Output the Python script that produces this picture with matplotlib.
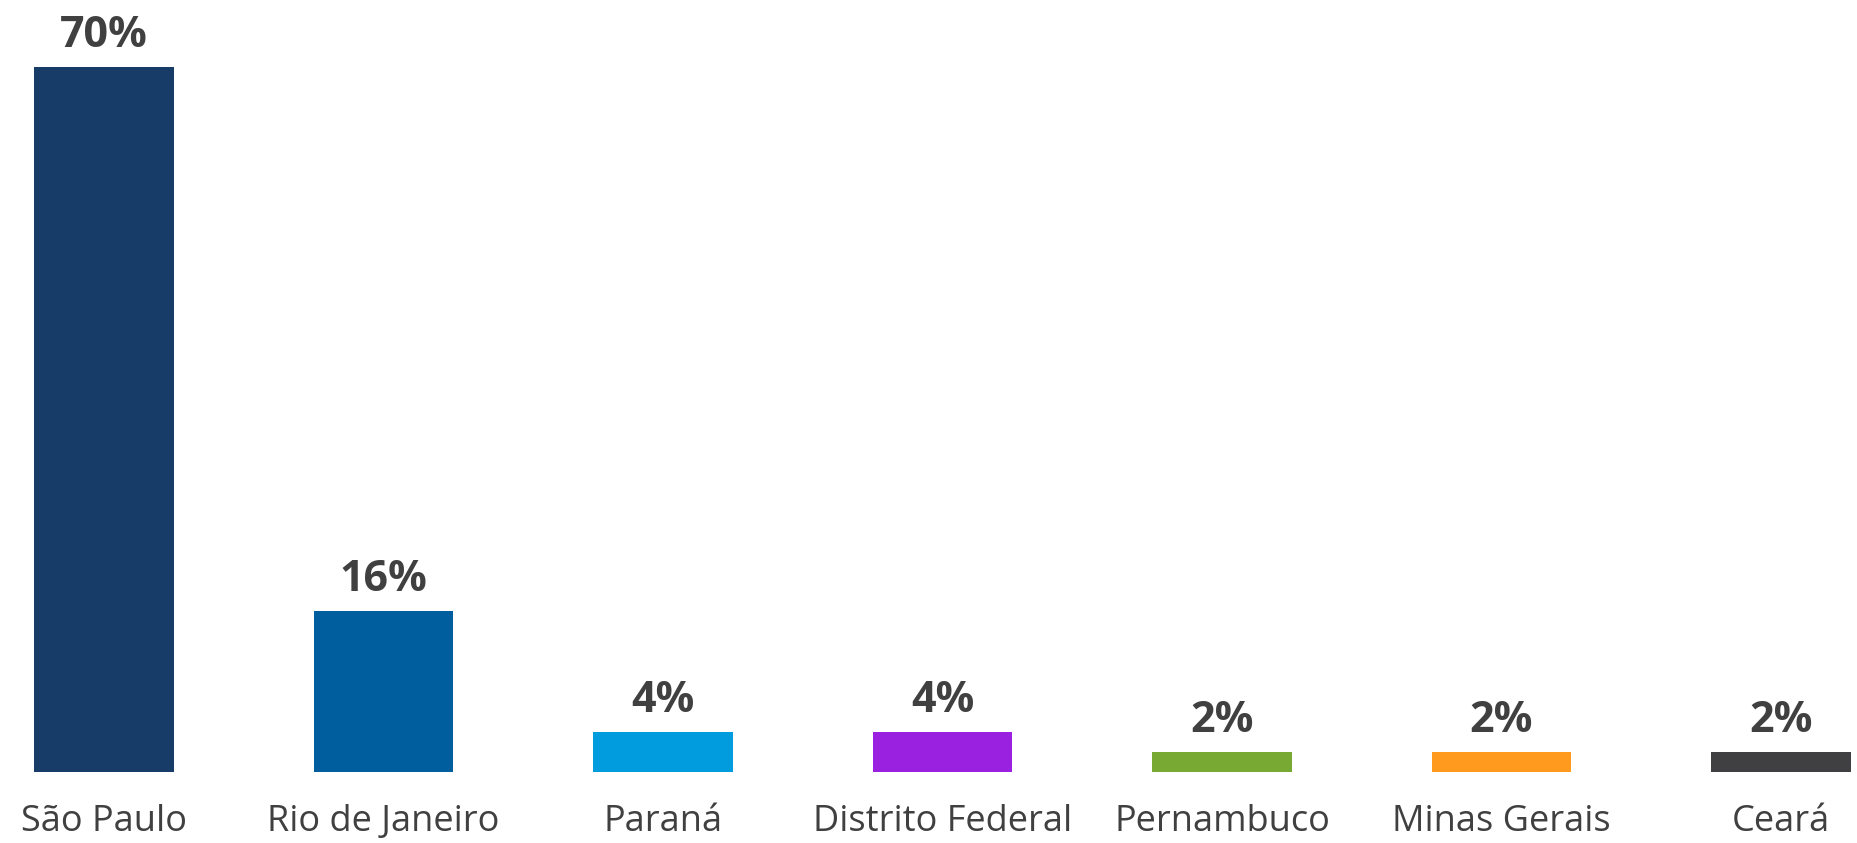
import numpy as np
import matplotlib.pyplot as plt

plt.rcParams['font.family'] = ['Open Sans', 'DejaVu Sans']

states = ['São Paulo', 'Rio de Janeiro', 'Paraná', 'Distrito Federal',
          'Pernambuco', 'Minas Gerais', 'Ceará']
shares = [70, 16, 4, 4, 2, 2, 2]
value_labels = ['70%', '16%', '4%', '4%', '2%', '2%', '2%']
colors = ['#173c68', '#005e9e', '#009cde', '#9b21e0', '#78a933', '#ff9a1f', '#404042']

fig = plt.figure(figsize=(18.57, 8.43), dpi=100)
ax = fig.add_axes([0, 0.0842, 1, 0.9158])

x = np.arange(len(states))
bars = ax.bar(x, shares, width=0.5, color=colors)

for xi, v, lab in zip(x, shares, value_labels):
    ax.annotate(lab, (xi, v), xytext=(0, 14.4), textcoords='offset points',
                ha='center', va='baseline', fontsize=31, fontweight='bold',
                color='#404040')

for xi, name in zip(x, states):
    ax.text(xi, -0.0765, name, transform=ax.get_xaxis_transform(),
            ha='center', va='baseline', fontsize=26, color='#404040')

ax.set_xlim(-0.372, 6.272)
ax.set_ylim(0, 76.7)
ax.axis('off')

plt.savefig('out.png', dpi=100)
plt.close()
